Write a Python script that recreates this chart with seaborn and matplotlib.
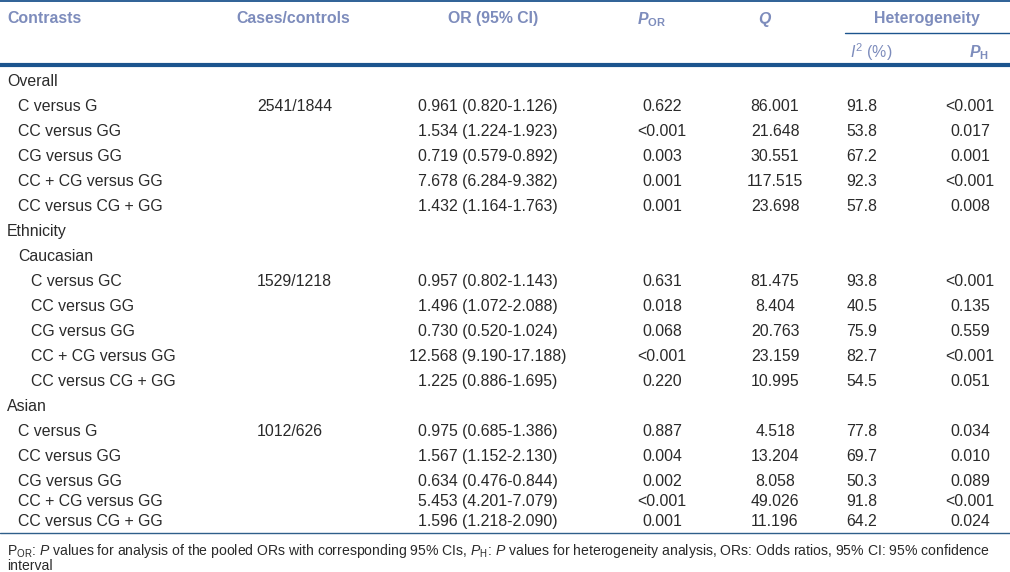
import matplotlib
matplotlib.use("Agg")
import matplotlib.pyplot as plt
import seaborn as sns

# Table content
contrasts = [
    "Overall", "C versus G", "CC versus GG", "CG versus GG", "CC + CG versus GG", "CC versus CG + GG",
    "Ethnicity", "Caucasian", "C versus GC", "CC versus GG", "CG versus GG", "CC + CG versus GG",
    "CC versus CG + GG", "Asian", "C versus G", "CC versus GG", "CG versus GG", "CC + CG versus GG",
    "CC versus CG + GG",
]
levels = [0, 1, 1, 1, 1, 1, 0, 1, 2, 2, 2, 2, 2, 0, 1, 1, 1, 1, 1]
cases_controls = ["", "2541/1844", "", "", "", "", "", "", "1529/1218", "", "", "", "", "",
                  "1012/626", "", "", "", ""]
or_ci = ["", "0.961 (0.820-1.126)", "1.534 (1.224-1.923)", "0.719 (0.579-0.892)",
         "7.678 (6.284-9.382)", "1.432 (1.164-1.763)", "", "",
         "0.957 (0.802-1.143)", "1.496 (1.072-2.088)", "0.730 (0.520-1.024)",
         "12.568 (9.190-17.188)", "1.225 (0.886-1.695)", "",
         "0.975 (0.685-1.386)", "1.567 (1.152-2.130)", "0.634 (0.476-0.844)",
         "5.453 (4.201-7.079)", "1.596 (1.218-2.090)"]
p_or = ["", "0.622", "<0.001", "0.003", "0.001", "0.001", "", "",
        "0.631", "0.018", "0.068", "<0.001", "0.220", "",
        "0.887", "0.004", "0.002", "<0.001", "0.001"]
q_values = ["", "86.001", "21.648", "30.551", "117.515", "23.698", "", "",
            "81.475", "8.404", "20.763", "23.159", "10.995", "",
            "4.518", "13.204", "8.058", "49.026", "11.196"]
i2_values = ["", "91.8", "53.8", "67.2", "92.3", "57.8", "", "",
             "93.8", "40.5", "75.9", "82.7", "54.5", "",
             "77.8", "69.7", "50.3", "91.8", "64.2"]
p_h = ["", "<0.001", "0.017", "0.001", "<0.001", "0.008", "", "",
       "<0.001", "0.135", "0.559", "<0.001", "0.051", "",
       "0.034", "0.010", "0.089", "<0.001", "0.024"]
row_gaps = [25] * 16 + [20, 20]

footnote_1 = (r"P$_{\mathregular{OR}}$: $P$ values for analysis of the pooled ORs with corresponding "
              r"95% CIs, $P_{\mathregular{H}}$: $P$ values for heterogeneity analysis, ORs: Odds ratios, "
              r"95% CI: 95% confidence")
footnote_2 = "interval"

sns.set_theme(style="white")
plt.rcParams["font.family"] = ["Liberation Sans", "DejaVu Sans"]
plt.rcParams["mathtext.fontset"] = "custom"
plt.rcParams["mathtext.rm"] = "Liberation Sans"
plt.rcParams["mathtext.it"] = "Liberation Sans:italic"
plt.rcParams["mathtext.bf"] = "Liberation Sans:bold"
plt.rcParams["mathtext.bfit"] = "Liberation Sans:bold:italic"

head_color = "#7d8cbc"
line_color = "#1c548e"
text_color = "#2a2a2a"
fs = 11.4

fig = plt.figure(figsize=(10.1, 5.72), dpi=100)
ax = fig.add_axes([0, 0, 1, 1])
ax.set_xlim(0, 1010)
ax.set_ylim(572, 0)
ax.axis("off")

# header
ax.axhline(1, color=line_color, lw=1.3)
ax.plot([845, 1010], [33, 33], color=line_color, lw=1.0)
ax.axhline(65, color=line_color, lw=3.0)
hdr = dict(color=head_color, fontsize=fs, fontweight="bold", va="center_baseline")
ax.text(7, 17, "Contrasts", ha="left", **hdr)
ax.text(293, 17, "Cases/controls", ha="center", **hdr)
ax.text(493, 17, "OR (95% CI)", ha="center", **hdr)
ax.text(652, 17, r"$\mathbfit{P}_{\mathregular{OR}}$", ha="center", **hdr)
ax.text(765, 17, r"$\mathbfit{Q}$", ha="center", **hdr)
ax.text(927, 17, "Heterogeneity", ha="center", **hdr)
ax.text(871, 50, r"$I^2$ (%)", ha="center", color=head_color, fontsize=fs, va="center_baseline")
ax.text(979, 50, r"$\mathbfit{P}_{\mathregular{H}}$", ha="center", **hdr)

# body
indent_x = [7, 18, 31]
y = 80
body = dict(color=text_color, fontsize=fs, va="center_baseline")
for i, label in enumerate(contrasts):
    ax.text(indent_x[levels[i]], y, label, ha="left", **body)
    ax.text(257, y, cases_controls[i], ha="left", **body)
    ax.text(488, y, or_ci[i], ha="center", **body)
    ax.text(662, y, p_or[i], ha="center", **body)
    ax.text(775, y, q_values[i], ha="center", **body)
    ax.text(862, y, i2_values[i], ha="center", **body)
    ax.text(970, y, p_h[i], ha="center", **body)
    if i < len(row_gaps):
        y += row_gaps[i]

ax.axhline(533, color="#2f5f8a", lw=1.0)
ax.text(7, 549, footnote_1, ha="left", va="center_baseline", color=text_color, fontsize=10.1)
ax.text(7, 565, footnote_2, ha="left", va="center_baseline", color=text_color, fontsize=10.1)

fig.savefig("out.png", dpi=100, facecolor="white")
